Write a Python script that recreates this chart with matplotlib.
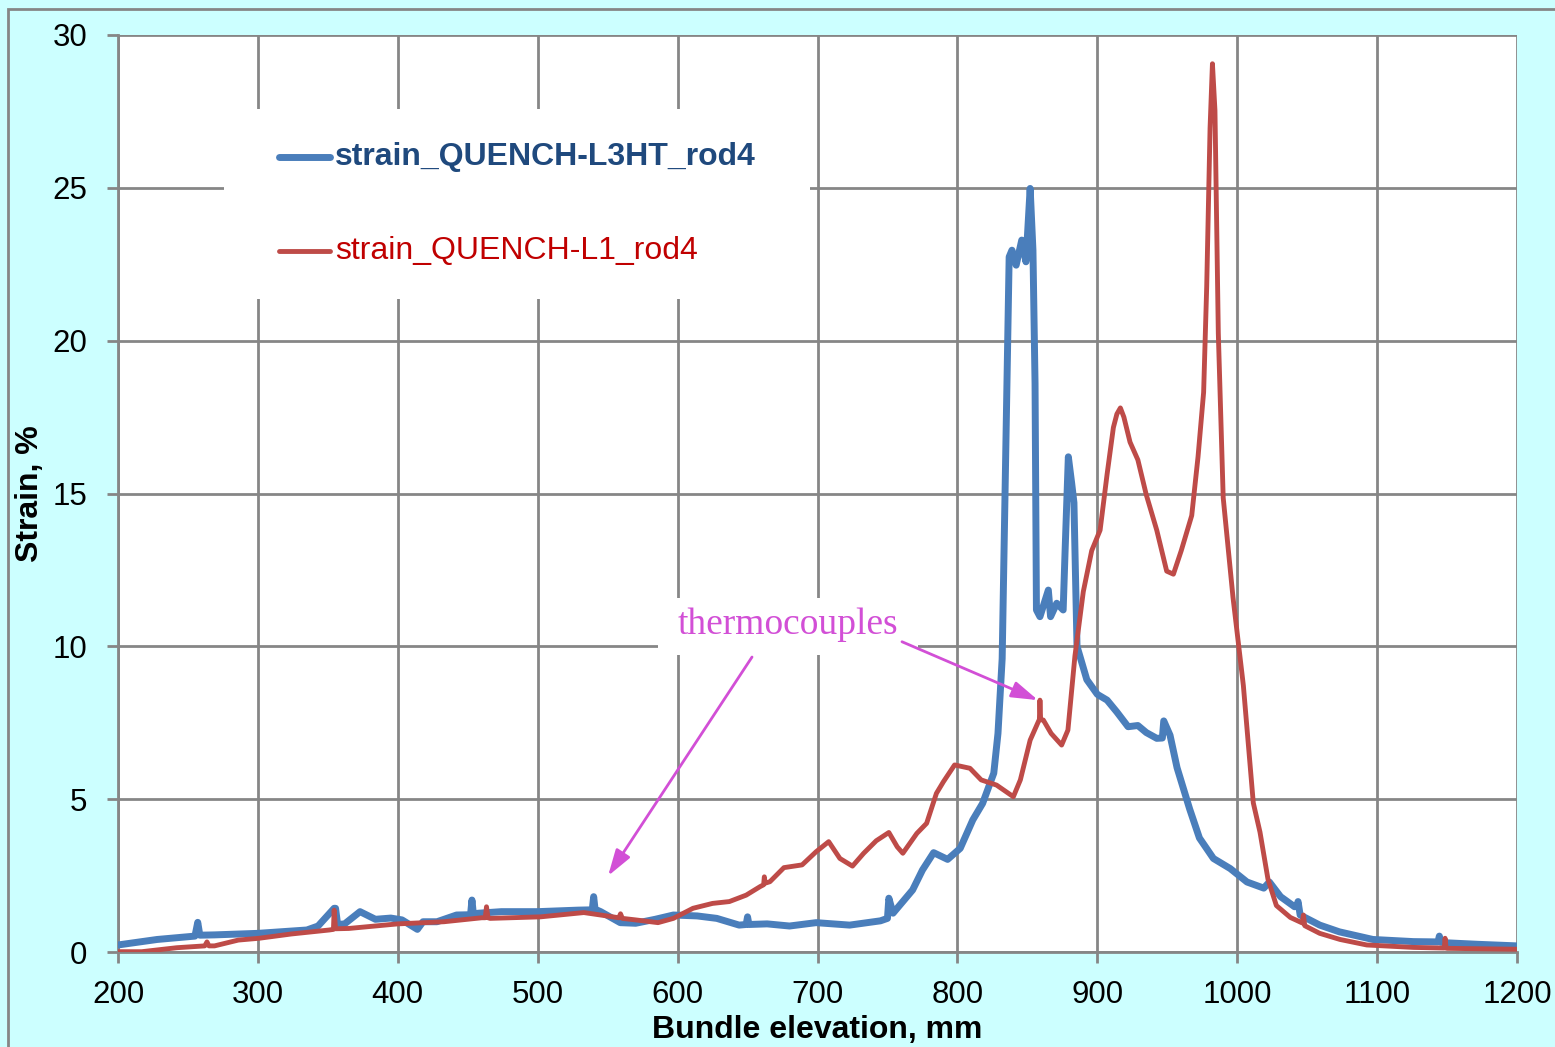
import numpy as np
import matplotlib
matplotlib.use('Agg')
import matplotlib.pyplot as plt
from matplotlib.patches import Rectangle
from matplotlib.lines import Line2D

# strain_QUENCH-L3HT_rod4 (blue)
l3ht_x = [200, 228, 255, 257, 258.5, 269, 300, 335, 343, 354.5, 355.5, 357, 362, 373, 384, 395, 403,
          414, 418, 428, 442, 452, 453, 454, 458, 474, 500, 529, 539, 540, 541, 545, 559, 570, 584,
          597, 614, 628, 644, 649, 650, 651, 664, 680, 699, 723, 745, 750, 751, 754, 768, 775, 783,
          793, 802, 811, 818, 826, 829, 832, 835, 837, 839, 842, 846, 849, 852, 854, 855.5, 856.5,
          859, 865, 866.6, 871, 875.6, 877, 879.3, 881.7, 883.3, 885.5, 892.5, 900, 907, 914, 922,
          929, 935, 942.5, 946.5, 947.5, 952, 957, 966, 973, 983, 995, 1007, 1019, 1023, 1031,
          1041, 1042.5, 1043.5, 1045, 1059, 1073, 1097, 1126, 1143.5, 1144.5, 1145.5, 1150, 1173, 1200]
l3ht_y = [0.23, 0.41, 0.52, 0.97, 0.55, 0.56, 0.61, 0.72, 0.85, 1.43, 1.43, 0.9, 0.92, 1.32, 1.07, 1.11, 1.05,
          0.74, 0.99, 0.99, 1.21, 1.22, 1.70, 1.25, 1.27, 1.32, 1.32, 1.37, 1.38, 1.81, 1.4, 1.32, 0.96, 0.94, 1.07,
          1.21, 1.18, 1.10, 0.88, 0.9, 1.15, 0.9, 0.92, 0.85, 0.96, 0.88, 1.02, 1.1, 1.76, 1.27, 2.03, 2.68, 3.25,
          3.03, 3.39, 4.32, 4.86, 5.85, 7.15, 9.6, 17.5, 22.74, 22.96, 22.47, 23.29, 22.58, 24.98, 22.96, 18.6, 11.19,
          10.97, 11.84, 10.97, 11.41, 11.19, 13.15, 16.2, 15.33, 14.7, 10.0, 8.91, 8.43, 8.24, 7.85, 7.37,
          7.41, 7.18, 6.99, 7.0, 7.56, 7.09, 6.03, 4.68, 3.73, 3.06, 2.73, 2.29, 2.09, 2.29, 1.81,
          1.48, 1.5, 1.65, 1.21, 0.88, 0.66, 0.41, 0.34, 0.33, 0.52, 0.32, 0.30, 0.25, 0.20]

# strain_QUENCH-L1_rod4 (red)
l1_x = [200, 217, 242, 262, 263.6, 265, 269, 286, 301, 324, 351, 354, 354.5, 355.5, 365, 400, 433,
        460, 462.5, 463.4, 464.5, 466, 502, 533, 545, 558, 559.2, 560.5, 570, 586, 597, 611, 625,
        637, 649, 659, 661.5, 662, 662.5, 666, 676, 689, 699, 708, 716, 725, 733, 742, 751, 757,
        761, 771, 778, 785, 790, 798, 809, 817, 828, 840, 845, 852, 858, 858.6, 859, 859.5, 861.4,
        867, 874.5, 879, 884, 890, 896, 902, 907, 911.5, 914, 916.5, 919, 923.4, 929, 935, 942.5, 949.6,
        954.4, 960, 967.5, 972, 976, 978.2, 980.6, 982.3, 984.1, 986.5, 990, 997, 1004.4, 1011.5,
        1016.3, 1022, 1028, 1038, 1046.5, 1047.3, 1048.3, 1059, 1073.5, 1092.6, 1126, 1148, 1148.6,
        1149.3, 1150, 1200]
l1_y = [0.01, 0.01, 0.14, 0.2, 0.33, 0.2, 0.2, 0.39, 0.45, 0.59, 0.72, 0.74, 1.37, 0.76, 0.77, 0.92, 0.99,
        1.12, 1.12, 1.48, 1.12, 1.1, 1.15, 1.29, 1.21, 1.12, 1.25, 1.1, 1.05, 0.96, 1.1, 1.43, 1.59,
        1.65, 1.86, 2.14, 2.2, 2.46, 2.25, 2.3, 2.76, 2.85, 3.28, 3.61, 3.06, 2.81, 3.23, 3.64, 3.91, 3.44,
        3.23, 3.88, 4.21, 5.19, 5.57, 6.12, 6.01, 5.63, 5.46, 5.08, 5.63, 6.93, 7.55, 7.6, 8.24, 7.6, 7.59,
        7.15, 6.77, 7.26, 9.68, 11.79, 13.13, 13.8, 15.63, 17.16, 17.6, 17.8, 17.5, 16.68, 16.1, 14.96, 13.8, 12.46,
        12.36, 13.13, 14.28, 16.2, 18.31, 21.77, 26.95, 29.06, 27.53, 20.24, 14.86, 11.6, 8.72, 4.88,
        3.92, 2.38, 1.52, 1.13, 0.95, 1.21, 0.86, 0.61, 0.41, 0.23, 0.15, 0.13, 0.45,
        0.13, 0.12, 0.09]

series_names = ['strain_QUENCH-L3HT_rod4', 'strain_QUENCH-L1_rod4']
x_ticks = [200, 300, 400, 500, 600, 700, 800, 900, 1000, 1100, 1200]
y_ticks = [0, 5, 10, 15, 20, 25, 30]

BLUE = '#4A7EBB'
RED = '#BE4B48'
GRID = '#868686'
MAGENTA = '#D24FD6'
LW_BLUE = 5.0
LW_RED = 3.5

plt.rcParams['font.family'] = ['Liberation Sans', 'DejaVu Sans']

fig = plt.figure(figsize=(15.55, 10.47), dpi=100)
fig.patch.set_facecolor('#CCFFFF')
# outer chart frame
fig.patches.append(Rectangle((8 / 1555, -0.05), 1.2, 1 - 9 / 1047 + 0.05, transform=fig.transFigure,
                             fill=False, edgecolor=GRID, linewidth=2, zorder=0))

ax = fig.add_axes([118 / 1555, 1 - 952 / 1047, (1517 - 118) / 1555, (952 - 35) / 1047])
ax.set_facecolor('white')
ax.set_xlim(200, 1200)
ax.set_ylim(0, 30)
ax.set_xticks(x_ticks)
ax.set_yticks(y_ticks)
ax.grid(True, color=GRID, linewidth=2, zorder=0)
ax.set_axisbelow(True)
for side in ['top', 'right']:
    ax.spines[side].set_visible(False)
for side in ['left', 'bottom']:
    ax.spines[side].set_color(GRID)
    ax.spines[side].set_linewidth(2)
ax.tick_params(axis='both', colors=GRID, length=8, width=2, labelsize=22.5, labelcolor='black')
ax.tick_params(axis='y', pad=14)
ax.tick_params(axis='x', pad=12)

ax.set_xlabel('Bundle elevation, mm', fontsize=23, fontweight='bold')
ax.set_ylabel('Strain, %', fontsize=23, fontweight='bold')
ax.xaxis.set_label_coords(0.5, -0.069)
ax.yaxis.set_label_coords(-0.052, 0.5)

ax.plot(l3ht_x, l3ht_y, color=BLUE, linewidth=LW_BLUE, solid_joinstyle='round', zorder=3)
ax.plot(l1_x, l1_y, color=RED, linewidth=LW_RED, solid_joinstyle='round', zorder=4)

# legend: white box hiding the grid
leg_x0, leg_x1 = (224 - 118) / 1399, (810 - 118) / 1399
leg_y0, leg_y1 = (952 - 299) / 917, (952 - 109) / 917
ax.add_patch(Rectangle((leg_x0, leg_y0), leg_x1 - leg_x0, leg_y1 - leg_y0, transform=ax.transAxes,
                       facecolor='white', edgecolor='none', zorder=1))
for i, (name, col, lw, tcol, fw) in enumerate([(series_names[0], BLUE, LW_BLUE, '#1F497D', 'bold'),
                                               (series_names[1], RED, LW_RED, '#C00000', 'normal')]):
    yy = (952 - (157 + 94 * i)) / 917
    ax.add_line(Line2D([(279 - 118) / 1399, (330 - 118) / 1399], [yy, yy], transform=ax.transAxes,
                       color=col, linewidth=lw, solid_capstyle='round', zorder=5))
    ax.text((335 - 118) / 1399, yy, name, transform=ax.transAxes, fontsize=23, fontweight=fw,
            color=tcol, va='center', ha='left', zorder=5)

# thermocouples annotation
tx0, tx1 = (658 - 118) / 1399, (918 - 118) / 1399
ty0, ty1 = (952 - 655) / 917, (952 - 598) / 917
ax.add_patch(Rectangle((tx0, ty0), tx1 - tx0, ty1 - ty0, transform=ax.transAxes,
                       facecolor='white', edgecolor='none', zorder=1))
ax.text(679, 10.7, 'thermocouples', fontsize=27, color=MAGENTA, ha='center', va='center',
        family=['Liberation Serif', 'DejaVu Serif'], zorder=5)
for start, tip in [((653.2, 9.65), (550.3, 2.49)), ((760.4, 10.15), (857.6, 8.24))]:
    ax.annotate('', xy=tip, xytext=start,
                arrowprops=dict(arrowstyle='-|>,head_length=1.6,head_width=0.5', color=MAGENTA,
                                linewidth=2, shrinkA=0, shrinkB=0), zorder=6)

fig.savefig('out.png', dpi=100, facecolor=fig.get_facecolor())
